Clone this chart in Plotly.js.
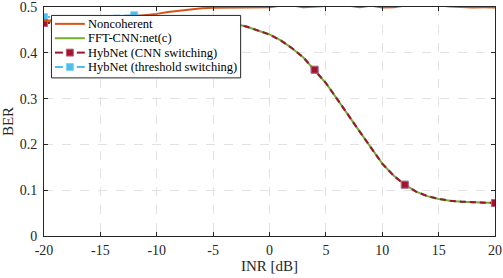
<!DOCTYPE html>
<html>
<head>
<meta charset="utf-8">
<script src="https://cdn.plot.ly/plotly-3.0.1.min.js"></script>
<style>html,body{margin:0;padding:0;background:#fff;}#chart{width:503px;height:278px;}</style>
</head>
<body>
<div id="chart"></div>
<script>
// ---- data ----
var inr = [-20,-19,-18,-17,-16,-15,-14,-13,-12,-11,-10,-9,-8,-7,-6,-5,-4,-3,-2,-1,0,1,2,3,4,5,6,7,8,9,10,11,12,13,14,15,16,17,18,19,20];
var noncoherent = [0.470,0.471,0.472,0.473,0.474,0.475,0.477,0.478,0.480,0.482,0.485,0.489,0.492,0.495,0.497,0.4985,0.4990,0.4990,0.4990,0.4990,0.4995,0.5030,0.5035,0.4995,0.5005,0.5030,0.5035,0.5030,0.4995,0.5030,0.4990,0.4992,0.5030,0.5035,0.5030,0.5035,0.5010,0.4992,0.4990,0.4992,0.4990];
var fftCnn = [0.468,0.468,0.468,0.468,0.469,0.469,0.469,0.469,0.469,0.469,0.469,0.469,0.468,0.468,0.467,0.466,0.465,0.463,0.457,0.449,0.440,0.427,0.410,0.390,0.363,0.334,0.299,0.262,0.228,0.193,0.158,0.132,0.112,0.097,0.087,0.081,0.077,0.075,0.074,0.073,0.072];
var hybCnn = [0.465,0.465,0.466,0.466,0.467,0.467,0.468,0.468,0.468,0.468,0.468,0.468,0.468,0.468,0.467,0.466,0.465,0.463,0.457,0.449,0.440,0.427,0.410,0.390,0.363,0.334,0.299,0.262,0.228,0.193,0.158,0.132,0.112,0.097,0.087,0.081,0.077,0.075,0.074,0.073,0.072];
var hybThr = [0.478,0.478,0.479,0.479,0.480,0.480,0.480,0.481,0.482,0.480,0.479,0.477,0.475,0.472,0.469,0.467,0.465,0.463,0.457,0.449,0.440,0.427,0.410,0.390,0.363,0.334,0.299,0.262,0.228,0.193,0.158,0.132,0.112,0.097,0.087,0.081,0.077,0.075,0.074,0.073,0.072];
var markerInr = [-20,-12,-4,4,12,20];
var seriesNames = ['Noncoherent','FFT-CNN:net(c)','HybNet (CNN switching)','HybNet (threshold switching)'];
var xTickVals = [-20,-15,-10,-5,0,5,10,15,20];
var xTickText = ['-20','-15','-10','-5','0','5','10','15','20'];
var yTickVals = [0,0.1,0.2,0.3,0.4,0.5];
var yTickText = ['0','0.1','0.2','0.3','0.4','0.5'];

// ---- style ----
var C_ORANGE = '#D95319', C_GREEN = '#77AC30', C_RED = '#A2142F', C_CYAN = '#4DBEEE';
var FONT = '"Liberation Serif", "Times New Roman", serif';
var AX = '#262626';

function pick(arr) {
  return markerInr.map(function (v) { return arr[inr.indexOf(v)]; });
}

var traces = [
  {x: inr, y: hybThr, mode: 'lines', line: {color: C_CYAN, width: 2, dash: '6px,4px'}, showlegend: false, hoverinfo: 'skip'},
  {x: markerInr, y: pick(hybThr), mode: 'markers', marker: {symbol: 'square', size: 7, color: C_CYAN, line: {color: '#7fd0f2', width: 1}}, showlegend: false, hoverinfo: 'skip'},
  {x: inr, y: fftCnn, mode: 'lines', line: {color: C_GREEN, width: 2}, showlegend: false, hoverinfo: 'skip'},
  {x: inr, y: hybCnn, mode: 'lines', line: {color: C_RED, width: 2, dash: '6px,4px'}, showlegend: false, hoverinfo: 'skip'},
  {x: markerInr, y: pick(hybCnn), mode: 'markers', marker: {symbol: 'square', size: 7, color: C_RED, line: {color: '#c0607a', width: 1}}, showlegend: false, hoverinfo: 'skip'},
  {x: inr, y: noncoherent, mode: 'lines', line: {color: C_ORANGE, width: 2}, showlegend: false, hoverinfo: 'skip'}
];

// ---- legend drawn in paper space ----
var L = 42, R = 495, T = 7, B = 238;
function px(x) { return (x - L) / (R - L); }
function py(y) { return (B - y) / (B - T); }
var shapes = [], annotations = [];
shapes.push({type: 'rect', xref: 'paper', yref: 'paper', x0: px(49.5), x1: px(239.5), y0: py(15.5), y1: py(78.5),
  fillcolor: '#ffffff', line: {color: AX, width: 1}, layer: 'above'});
var rowY = [24, 38.5, 53, 67.5];
var rowColor = [C_ORANGE, C_GREEN, C_RED, C_CYAN];
var rowMarkerEdge = [null, null, '#c0607a', '#7fd0f2'];
for (var i = 0; i < 4; i++) {
  var yy = py(rowY[i]);
  if (i < 2) {
    shapes.push({type: 'line', xref: 'paper', yref: 'paper', x0: px(53), x1: px(83), y0: yy, y1: yy, line: {color: rowColor[i], width: 2}});
  } else {
    shapes.push({type: 'line', xref: 'paper', yref: 'paper', x0: px(53), x1: px(61), y0: yy, y1: yy, line: {color: rowColor[i], width: 2}});
    shapes.push({type: 'line', xref: 'paper', yref: 'paper', x0: px(75), x1: px(83), y0: yy, y1: yy, line: {color: rowColor[i], width: 2}});
    shapes.push({type: 'rect', xref: 'paper', yref: 'paper', x0: px(64.5), x1: px(71.5), y0: py(rowY[i] + 3.5), y1: py(rowY[i] - 3.5),
      fillcolor: rowColor[i], line: {color: rowMarkerEdge[i], width: 1}});
  }
  annotations.push({xref: 'paper', yref: 'paper', x: px(84.5), y: yy, xanchor: 'left', yanchor: 'middle',
    text: seriesNames[i], showarrow: false, font: {family: FONT, size: 12.5, color: '#000'}});
}

var layout = {
  width: 503, height: 278,
  margin: {l: 42, r: 8, t: 7, b: 40, pad: 0},
  paper_bgcolor: '#fff', plot_bgcolor: '#fff',
  showlegend: false,
  font: {family: FONT, size: 14, color: AX},
  xaxis: {
    range: [-20, 20], tickvals: xTickVals, ticktext: xTickText,
    showline: true, linecolor: AX, linewidth: 1, mirror: 'ticks',
    ticks: 'inside', ticklen: 4, tickcolor: AX, tickwidth: 1,
    showgrid: true, gridcolor: '#e2e2e2', griddash: 'dash', gridwidth: 1,
    zeroline: false, ticklabelstandoff: 1, ticklabeloverflow: 'allow',
    tickfont: {family: FONT, size: 14, color: AX},
    automargin: 'bottom',
    title: {text: 'INR [dB]', font: {family: FONT, size: 15, color: AX}, standoff: 3}
  },
  yaxis: {
    range: [0, 0.5], tickvals: yTickVals, ticktext: yTickText,
    showline: true, linecolor: AX, linewidth: 1, mirror: 'ticks',
    ticks: 'inside', ticklen: 4, tickcolor: AX, tickwidth: 1,
    showgrid: true, gridcolor: '#e2e2e2', griddash: 'dash', gridwidth: 1,
    zeroline: false, ticklabelstandoff: 3, ticklabeloverflow: 'allow',
    tickfont: {family: FONT, size: 14, color: AX},
    automargin: 'left',
    title: {text: 'BER', font: {family: FONT, size: 15, color: AX}, standoff: 2}
  },
  shapes: shapes,
  annotations: annotations
};

Plotly.newPlot('chart', traces, layout, {staticPlot: true, displayModeBar: false});
</script>
</body>
</html>
